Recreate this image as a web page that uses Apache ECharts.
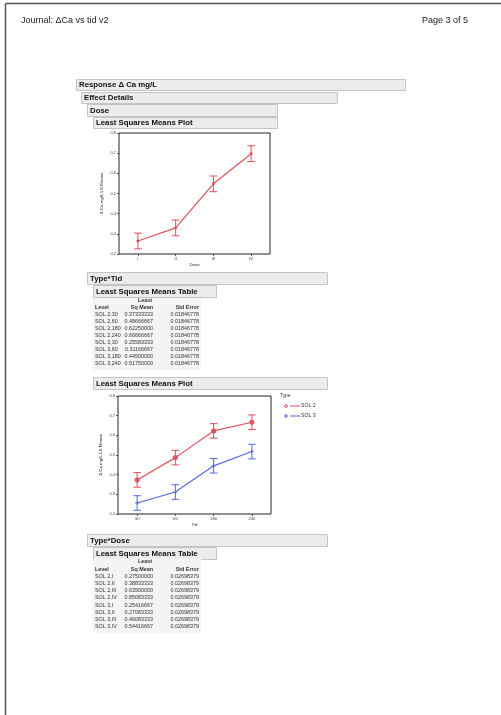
<!DOCTYPE html>
<html><head><meta charset="utf-8">
<script src="https://cdn.jsdelivr.net/npm/echarts@6/dist/echarts.min.js"></script>
<style>html,body{margin:0;padding:0;background:#fff;overflow:hidden}#c{width:501px;height:715px}</style>
</head><body><div id="c"></div>
<script>
// ---- data ----
const doseCats = ['I', 'II', 'III', 'IV'];
const doseMeans = [0.2646, 0.3296, 0.5479, 0.6975];
const doseHalfCI = [0.039, 0.039, 0.039, 0.039];
const tidCats = ['30', '60', '180', '240'];
const sol2Means = [0.37333333, 0.48666667, 0.6225, 0.66666667];
const sol3Means = [0.25583333, 0.31166667, 0.445, 0.5175];
const tidHalfCI = [0.037, 0.037, 0.037, 0.037];
const typeNames = ['SOL 2', 'SOL 3'];
const yMin = 0.2, yMax = 0.8, yStep = 0.1;

const tidLevels = ['SOL 2,30', 'SOL 2,60', 'SOL 2,180', 'SOL 2,240', 'SOL 3,30', 'SOL 3,60', 'SOL 3,180', 'SOL 3,240'];
const tidLsm = ['0.37333333', '0.48666667', '0.62250000', '0.66666667', '0.25583333', '0.31166667', '0.44500000', '0.51750000'];
const tidSe = ['0.01846778', '0.01846778', '0.01846778', '0.01846778', '0.01846778', '0.01846778', '0.01846778', '0.01846778'];
const doseLevels = ['SOL 2,I', 'SOL 2,II', 'SOL 2,III', 'SOL 2,IV', 'SOL 3,I', 'SOL 3,II', 'SOL 3,III', 'SOL 3,IV'];
const doseLsm = ['0.27500000', '0.38833333', '0.63500000', '0.85083333', '0.25416667', '0.27083333', '0.46083333', '0.54416667'];
const doseSe = ['0.02698379', '0.02698379', '0.02698379', '0.02698379', '0.02698379', '0.02698379', '0.02698379', '0.02698379'];

// ---- styles ----
const RED = '#e0505a', BLUE = '#5468e2';
const FONT = 'Liberation Sans, Arial, sans-serif';

const chart = echarts.init(document.getElementById('c'), null, {renderer: 'canvas'});

function errRender(color) {
  return function (params, api) {
    const x = api.value(0), lo = api.value(1), hi = api.value(2);
    const a = api.coord([x, hi]), b = api.coord([x, lo]);
    const w = 3.8;
    const st = {stroke: color, lineWidth: 1};
    return {type: 'group', children: [
      {type: 'line', shape: {x1: a[0], y1: a[1], x2: b[0], y2: b[1]}, style: st},
      {type: 'line', shape: {x1: a[0] - w, y1: a[1], x2: a[0] + w, y2: a[1]}, style: st},
      {type: 'line', shape: {x1: b[0] - w, y1: b[1], x2: b[0] + w, y2: b[1]}, style: st}
    ]};
  };
}
function errData(means, half) { return means.map((m, i) => [i, m - half[i], m + half[i]]); }

function yAx(gi) {
  return {
    type: 'value', gridIndex: gi, min: yMin, max: yMax, interval: yStep,
    name: 'Δ Ca mg/L LS Means', nameLocation: 'middle', nameGap: 15,
    nameTextStyle: {fontSize: 4.4, color: '#222', fontFamily: FONT},
    axisLine: {show: false}, splitLine: {show: false},
    axisTick: {show: true, length: 2, lineStyle: {color: '#333', width: 0.8}},
    axisLabel: {fontSize: 4, color: '#444', margin: 3, fontFamily: FONT, formatter: v => v.toFixed(1)}
  };
}
function xAx(gi, cats, name) {
  return {
    type: 'category', gridIndex: gi, data: cats, boundaryGap: true,
    name: name, nameLocation: 'middle', nameGap: 9,
    nameTextStyle: {fontSize: 4.4, color: '#222', fontFamily: FONT},
    axisLine: {show: false},
    axisTick: {show: true, alignWithLabel: true, length: 2, lineStyle: {color: '#333', width: 0.8}},
    axisLabel: {fontSize: 4.2, color: '#444', margin: 3, fontFamily: FONT}
  };
}

const plusPath = 'path://M4,0H6V4H10V6H6V10H4V6H0V4H4Z';

// ---- graphic (page, headers, tables) ----
const g = [];
g.push({type: 'line', shape: {x1: 5.5, y1: 3.5, x2: 501, y2: 3.5}, style: {stroke: '#555', lineWidth: 1.5}});
g.push({type: 'line', shape: {x1: 5.5, y1: 3.5, x2: 5.5, y2: 715}, style: {stroke: '#555', lineWidth: 1.5}});
g.push({type: 'text', left: 21, top: 16, style: {text: 'Journal: ΔCa vs tid v2', font: '9px ' + FONT, fill: '#222'}});
g.push({type: 'text', left: 422, top: 16, style: {text: 'Page 3 of 5', font: '9px ' + FONT, fill: '#222'}});

function bar(x1, y1, x2, y2, text) {
  g.push({type: 'rect', shape: {x: x1 + 0.5, y: y1 + 0.5, width: x2 - x1, height: y2 - y1},
    style: {fill: '#ececec', stroke: '#c4c4c4', lineWidth: 1}});
  g.push({type: 'text', x: x1 + 3, y: (y1 + y2) / 2 + 0.5,
    style: {text: text, font: 'bold 7.8px ' + FONT, fill: '#111', textVerticalAlign: 'middle'}});
}
bar(76, 79, 405, 90, 'Response Δ Ca mg/L');
bar(81, 92, 337, 103, 'Effect Details');
bar(87, 104, 277, 116, 'Dose');
bar(93, 117, 277, 128, 'Least Squares Means Plot');

bar(87, 272, 327, 284, 'Type*Tid');
bar(93, 285, 216, 297, 'Least Squares Means Table');
bar(93, 377, 327, 389, 'Least Squares Means Plot');

bar(87, 534, 327, 546, 'Type*Dose');
bar(93, 547, 216, 559, 'Least Squares Means Table');

function table(top, rowH, levels, lsm, se) {
  const n = levels.length;
  g.push({type: 'rect', shape: {x: 93, y: top - 3, width: 108, height: rowH * (n + 2) + 2}, style: {fill: '#f4f4f4'}});
  const fs = '5.4px ' + FONT;
  const fb = 'bold 5.4px ' + FONT;
  g.push({type: 'text', x: 152, y: top, style: {text: 'Least', font: fb, fill: '#333', textAlign: 'right', textVerticalAlign: 'middle'}});
  g.push({type: 'text', x: 95, y: top + rowH, style: {text: 'Level', font: fb, fill: '#333', textVerticalAlign: 'middle'}});
  g.push({type: 'text', x: 153, y: top + rowH, style: {text: 'Sq Mean', font: fb, fill: '#333', textAlign: 'right', textVerticalAlign: 'middle'}});
  g.push({type: 'text', x: 199, y: top + rowH, style: {text: 'Std Error', font: fb, fill: '#333', textAlign: 'right', textVerticalAlign: 'middle'}});
  for (let i = 0; i < n; i++) {
    const y = top + rowH * (i + 2);
    g.push({type: 'text', x: 95, y: y, style: {text: levels[i], font: fs, fill: '#333', textVerticalAlign: 'middle'}});
    g.push({type: 'text', x: 153, y: y, style: {text: lsm[i], font: fs, fill: '#333', textAlign: 'right', textVerticalAlign: 'middle'}});
    g.push({type: 'text', x: 199, y: y, style: {text: se[i], font: fs, fill: '#333', textAlign: 'right', textVerticalAlign: 'middle'}});
  }
}
table(301, 7, tidLevels, tidLsm, tidSe);
table(562, 7.2, doseLevels, doseLsm, doseSe);

// legend for type*tid plot
g.push({type: 'text', x: 280, y: 396, style: {text: 'Type', font: '4.8px ' + FONT, fill: '#333', textVerticalAlign: 'middle'}});
g.push({type: 'circle', shape: {cx: 286, cy: 406, r: 1.4}, style: {fill: 'none', stroke: RED, lineWidth: 1}});
g.push({type: 'line', shape: {x1: 290, y1: 406, x2: 300, y2: 406}, style: {stroke: RED, lineWidth: 1}});
g.push({type: 'text', x: 301, y: 406, style: {text: typeNames[0], font: '5.2px ' + FONT, fill: '#333', textVerticalAlign: 'middle'}});
g.push({type: 'line', shape: {x1: 284, y1: 416, x2: 288, y2: 416}, style: {stroke: BLUE, lineWidth: 1}});
g.push({type: 'line', shape: {x1: 286, y1: 414, x2: 286, y2: 418}, style: {stroke: BLUE, lineWidth: 1}});
g.push({type: 'line', shape: {x1: 290, y1: 416, x2: 300, y2: 416}, style: {stroke: BLUE, lineWidth: 1}});
g.push({type: 'text', x: 301, y: 416, style: {text: typeNames[1], font: '5.2px ' + FONT, fill: '#333', textVerticalAlign: 'middle'}});

const option = {
  animation: false,
  backgroundColor: '#fff',
  grid: [
    {left: 119, top: 133, width: 151, height: 121, show: true, borderColor: '#222', borderWidth: 1, backgroundColor: '#fff'},
    {left: 118, top: 396, width: 153, height: 118, show: true, borderColor: '#222', borderWidth: 1, backgroundColor: '#fff'}
  ],
  xAxis: [xAx(0, doseCats, 'Dose'), xAx(1, tidCats, 'Tid')],
  yAxis: [yAx(0), yAx(1)],
  series: [
    {type: 'line', xAxisIndex: 0, yAxisIndex: 0, data: doseMeans, symbol: 'circle', symbolSize: 3,
      lineStyle: {color: RED, width: 1.2}, itemStyle: {color: RED}, z: 3},
    {type: 'custom', xAxisIndex: 0, yAxisIndex: 0, data: errData(doseMeans, doseHalfCI), renderItem: errRender(RED), z: 4},
    {type: 'line', name: typeNames[0], xAxisIndex: 1, yAxisIndex: 1, data: sol2Means, symbol: 'emptyCircle', symbolSize: 3,
      lineStyle: {color: RED, width: 1.2}, itemStyle: {color: RED, borderColor: RED, borderWidth: 1}, z: 3},
    {type: 'custom', xAxisIndex: 1, yAxisIndex: 1, data: errData(sol2Means, tidHalfCI), renderItem: errRender(RED), z: 4},
    {type: 'line', name: typeNames[1], xAxisIndex: 1, yAxisIndex: 1, data: sol3Means, symbol: plusPath, symbolSize: 4,
      lineStyle: {color: BLUE, width: 1.2}, itemStyle: {color: BLUE}, z: 3},
    {type: 'custom', xAxisIndex: 1, yAxisIndex: 1, data: errData(sol3Means, tidHalfCI), renderItem: errRender(BLUE), z: 4}
  ],
  graphic: g
};
chart.setOption(option);
</script>
</body></html>
